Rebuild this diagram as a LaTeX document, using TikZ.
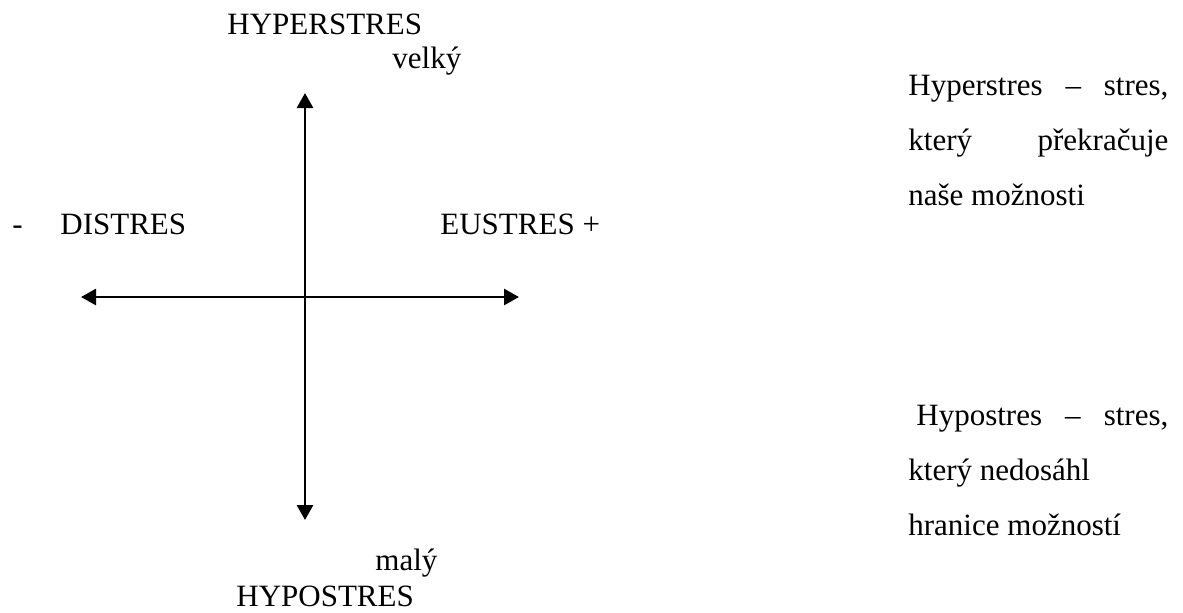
\documentclass[tikz,border=0pt]{standalone}
\usepackage{fontspec}
\setmainfont{Liberation Serif}
\usetikzlibrary{arrows.meta}
\tikzset{
  lbl/.style={inner sep=0pt, anchor=base west, font=\fontsize{15.5}{18}\selectfont},
  axis/.style={line width=1.4pt, {Triangle[length=7.5pt,width=8pt]}-{Triangle[length=7.5pt,width=8pt]}}
}
\begin{document}
\begin{tikzpicture}[x=0.5pt,y=-0.5pt]
\useasboundingbox (0,0) rectangle (1183,612);
% axes
\coordinate (tipL) at (81,297);
\coordinate (tipR) at (519,297);
\coordinate (tipU) at (305,93);
\coordinate (tipD) at (305,520);
\draw[axis] (tipL) -- (tipR);
\draw[axis] (tipD) -- (tipU);
% labels
\node[lbl] (hyper) at (227,34) {HYPERSTRES};
\node[lbl] (velky) at (392,68) {velký};
\node[lbl] (minus) at (12,234) {-};
\node[lbl] (dis) at (60,234) {DISTRES};
\node[lbl] (eu) at (440,234) {EUSTRES +};
\node[lbl] (maly) at (375,570) {malý};
\node[lbl] (hypo) at (236,606) {HYPOSTRES};
% right texts
\node[lbl] (r1) at (908,95) {\makebox[130pt][s]{Hyperstres – stres,}};
\node[lbl] (r2) at (908,150) {\makebox[130pt][s]{který překračuje}};
\node[lbl] (r3) at (908,205) {naše možnosti};
\node[lbl] (s1) at (916,425) {\makebox[126pt][s]{Hypostres – stres,}};
\node[lbl] (s2) at (908,480) {který nedosáhl};
\node[lbl] (s3) at (908,535) {hranice možností};
\end{tikzpicture}
\end{document}
